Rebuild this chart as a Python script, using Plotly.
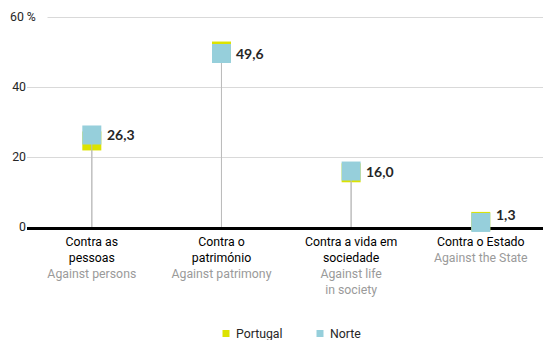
import plotly.graph_objects as go

# Crime categories (Portuguese / English) and shares of registered crimes, %
categories_pt = ["Contra as<br>pessoas", "Contra o<br>património", "Contra a vida em<br>sociedade", "Contra o Estado"]
categories_en = ["Against persons", "Against patrimony", "Against life<br>in society", "Against the State"]
portugal = [24.6, 50.3, 15.5, 1.6]
norte = [26.3, 49.6, 16.0, 1.3]
label_lift = [0, 0, 0, 8]  # px; keeps the smallest label clear of the axis line
y_ticks = [0, 20, 40]
series_names = ["Portugal", "Norte"]

C_PT = "#dce300"
C_NO = "#96cfdb"
FONT = "Roboto"

# plot area geometry (px)
L, T, B = 27, 15, 113
W, H = 543, 340
PW, PH = W - L, H - T - B

x = list(range(len(categories_pt)))
tick_text = [f"{pt}<br><span style='color:#9a9a9a'>{en}</span>" for pt, en in zip(categories_pt, categories_en)]
labels = [f"{v:.1f}".replace(".", ",") for v in norte]

fig = go.Figure()

# Portugal markers, with a drop line down to zero
fig.add_trace(go.Scatter(
    x=x, y=portugal, mode="markers", name=series_names[0], showlegend=False, cliponaxis=False,
    marker=dict(symbol="square", size=19, color=C_PT, line=dict(width=0)),
    error_y=dict(type="data", symmetric=False, array=[0] * len(portugal),
                 arrayminus=portugal, color="#bdbdbd", thickness=1, width=0),
    hoverinfo="skip",
))

# Norte markers
fig.add_trace(go.Scatter(
    x=x, y=norte, mode="markers", name=series_names[1], showlegend=False, cliponaxis=False,
    marker=dict(symbol="square", size=19, color=C_NO, line=dict(width=0)),
    error_y=dict(type="data", symmetric=False, array=[0] * len(norte),
                 arrayminus=norte, color="#bdbdbd", thickness=1, width=0),
    hoverinfo="skip",
))

annotations = []
# Norte value labels
for xi, v, txt, lift in zip(x, norte, labels, label_lift):
    annotations.append(dict(
        x=xi, y=v, xref="x", yref="y", text=txt, showarrow=False,
        xanchor="left", yanchor="middle", xshift=13, yshift=lift,
        font=dict(family="Lato", size=14, color="#262626", weight="bold"),
    ))

# "60 %" top tick label (covers the start of the top gridline)
annotations.append(dict(
    text="60 %", xref="paper", yref="y", x=(8 - L) / PW, y=60,
    xanchor="left", yanchor="middle", showarrow=False, align="left",
    width=36, bgcolor="white",
    font=dict(family=FONT, size=12.3, color="#262626"),
))

# Legend: small square key + name
shapes = []
legend_keys = [(series_names[0], C_PT, 226), (series_names[1], C_NO, 320)]
legend_y = (T + PH - 333.5) / PH
for name, col, kx in legend_keys:
    shapes.append(dict(
        type="rect", xref="paper", yref="paper",
        xsizemode="pixel", ysizemode="pixel",
        xanchor=(kx - L) / PW, yanchor=legend_y,
        x0=-3.5, x1=3.5, y0=-3.5, y1=3.5,
        fillcolor=col, line=dict(width=0), layer="above",
    ))
    annotations.append(dict(
        text=name, xref="paper", yref="paper", x=(kx + 8 - L) / PW, y=legend_y,
        xanchor="left", yanchor="middle", showarrow=False,
        font=dict(family=FONT, size=12.3, color="#262626"),
    ))

fig.update_layout(
    width=W, height=H,
    margin=dict(l=L, r=0, t=T, b=B, autoexpand=False),
    paper_bgcolor="white", plot_bgcolor="white",
    font=dict(family=FONT, size=12.3, color="#000000"),
    showlegend=False,
    xaxis=dict(
        range=[-0.5, 3.48], tickmode="array", tickvals=x, ticktext=tick_text,
        showgrid=False, zeroline=False, showline=True, linecolor="#000000",
        linewidth=3, ticks="", layer="below traces", fixedrange=True,
        automargin=False, ticklabelstandoff=1,
        tickfont=dict(family=FONT, size=12.3, color="#000000"),
    ),
    yaxis=dict(
        range=[0, 60.6], tickmode="array", tickvals=y_ticks + [60],
        ticktext=[str(t) for t in y_ticks] + [""],
        showgrid=True, gridcolor="#d9d9d9", gridwidth=1, zeroline=False,
        showline=False, ticks="", layer="below traces", fixedrange=True,
        automargin=False,
        tickfont=dict(family=FONT, size=12.3, color="#262626"),
    ),
    annotations=annotations,
    shapes=shapes,
)

fig.write_html("out.html")
